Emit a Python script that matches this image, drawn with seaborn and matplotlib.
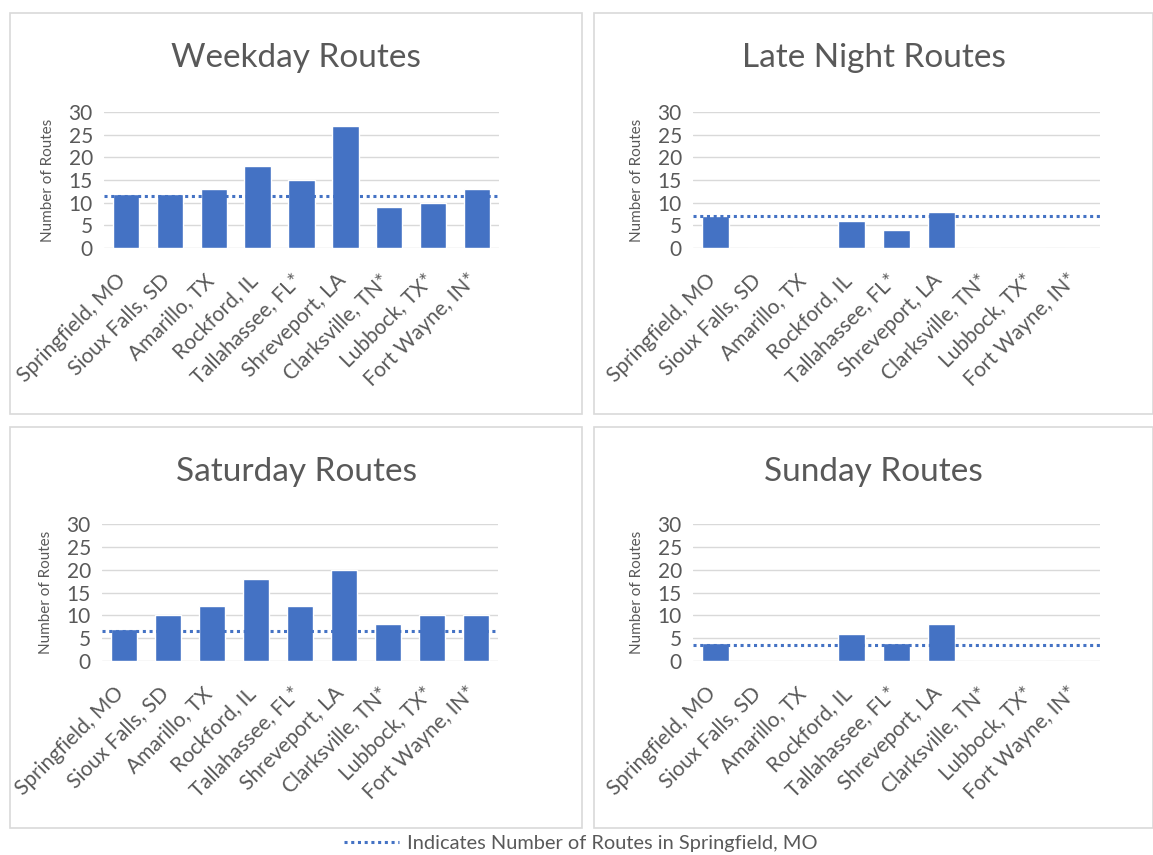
import seaborn as sns
import matplotlib.pyplot as plt
import pandas as pd
from matplotlib.patches import Rectangle
from matplotlib.transforms import ScaledTranslation

# data
cities = ["Springfield, MO", "Sioux Falls, SD", "Amarillo, TX", "Rockford, IL",
          "Tallahassee, FL*", "Shreveport, LA", "Clarksville, TN*", "Lubbock, TX*",
          "Fort Wayne, IN*"]
weekday = [12, 12, 13, 18, 15, 27, 9, 10, 13]
late_night = [7, 0, 0, 6, 4, 8, 0, 0, 0]
saturday = [7, 10, 12, 18, 12, 20, 8, 10, 10]
sunday = [4, 0, 0, 6, 4, 8, 0, 0, 0]
springfield_ref = [11.5, 7, 6.5, 3.5]
titles = ["Weekday Routes", "Late Night Routes", "Saturday Routes", "Sunday Routes"]
yticks = [0, 5, 10, 15, 20, 25, 30]

sns.set_theme(style="white")
plt.rcParams["font.family"] = ["Lato", "DejaVu Sans"]

BLUE = "#4472C4"
GRAY = "#595959"
GRID = "#d9d9d9"

fig = plt.figure(figsize=(11.53, 8.55), dpi=100)
W, H = 1153, 855

# panel frames (px): x0, y0, x1, y1
frames = [(10, 13, 582, 414), (594, 13, 1153, 414),
          (10, 427, 582, 828), (594, 427, 1153, 828)]
# plot areas (px): left, right, y of 0, y of 30
areas = [(104, 499, 248, 112), (693, 1100, 248, 112),
         (102, 498, 661, 524), (693, 1100, 661, 524)]

for (x0, y0, x1, y1) in frames:
    fig.patches.append(Rectangle((x0 / W, 1 - y1 / H), (x1 - x0) / W, (y1 - y0) / H,
                                 transform=fig.transFigure, fill=False,
                                 edgecolor=GRID, linewidth=1.2))

series = [weekday, late_night, saturday, sunday]
ref_line = None
shift = ScaledTranslation(-3 / 100, 0, fig.dpi_scale_trans)
for i, vals in enumerate(series):
    l, r, yb, yt = areas[i]
    ax = fig.add_axes([l / W, 1 - yb / H, (r - l) / W, (yb - yt) / H])
    df = pd.DataFrame({"city": cities, "routes": vals})
    sns.barplot(data=df, x="city", y="routes", color=BLUE, saturation=1,
                width=0.6, ax=ax)
    ref_line = ax.axhline(springfield_ref[i], color=BLUE, linestyle=(0, (1, 1.2)),
                          linewidth=2.2, zorder=3)
    ax.set_ylim(0, 30)
    ax.set_xlim(-0.5, len(cities) - 0.5)
    ax.set_yticks(yticks)
    ax.grid(axis="y", color=GRID, linewidth=1)
    ax.set_axisbelow(True)
    for s in ax.spines.values():
        s.set_visible(False)
    ax.tick_params(axis="y", labelsize=15, labelcolor=GRAY, length=0, pad=8)
    ax.tick_params(axis="x", labelsize=15, labelcolor=GRAY, length=0, pad=21)
    for lbl in ax.get_xticklabels():
        lbl.set_rotation(45)
        lbl.set_ha("right")
        lbl.set_va("center")
        lbl.set_rotation_mode("anchor")
        lbl.set_transform(lbl.get_transform() + shift)
    ax.set_xlabel("")
    ax.set_ylabel("Number of Routes", fontsize=11, color=GRAY, labelpad=10)
    fx0, fy0, fx1, fy1 = frames[i]
    fig.text((fx0 + fx1) / 2 / W, 1 - (fy0 + 45) / H, titles[i], ha="center",
             va="center", fontsize=24, color=GRAY)

fig.legend(handles=[ref_line], labels=["Indicates Number of Routes in Springfield, MO"],
           loc="center", bbox_to_anchor=(0.504, 0.014), frameon=False,
           fontsize=14.4, labelcolor=GRAY, handlelength=2.75, handletextpad=0.4)

fig.savefig("out.png", dpi=100)
